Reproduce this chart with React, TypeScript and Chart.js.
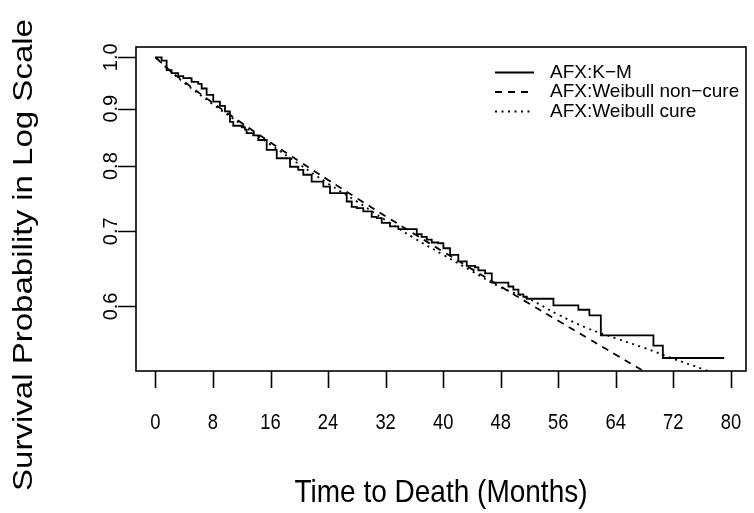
import React, { useEffect, useRef } from "react";
import { Chart, registerables } from "chart.js";

Chart.register(...registerables);

// Kaplan-Meier estimate (time in months, survival)
const kmTime = [
  0, 0.86, 1.56, 2.25, 3.17, 3.87, 5.03, 5.95, 6.43, 7.12, 8.04, 8.97, 9.67,
  10.36, 10.82, 11.99, 12.45, 12.68, 13.6, 14.3, 15.47, 16.86, 18.71, 19.86,
  20.56, 21.72, 23.34, 24.27, 26.59, 27.29, 27.98, 28.9, 30.07, 30.76, 31.46,
  32.61, 33.77, 36.33, 37.0, 37.72, 38.41, 39.33, 40.03, 40.96, 42.11, 43.28,
  44.44, 44.9, 45.83, 46.76, 49.07, 49.76, 50.46, 51.15, 51.63, 55.33, 58.8,
  60.33, 61.92, 69.23, 70.54, 79.07,
];
const kmSurv = [
  1.0, 0.993, 0.974, 0.968, 0.962, 0.958, 0.951, 0.947, 0.938, 0.926, 0.913,
  0.905, 0.895, 0.876, 0.869, 0.866, 0.862, 0.856, 0.852, 0.844, 0.827, 0.813,
  0.799, 0.794, 0.786, 0.775, 0.767, 0.757, 0.744, 0.736, 0.734, 0.729, 0.721,
  0.719, 0.712, 0.707, 0.703, 0.696, 0.692, 0.688, 0.684, 0.683, 0.676, 0.667,
  0.658, 0.652, 0.65, 0.646, 0.642, 0.63, 0.625, 0.621, 0.615, 0.612, 0.6095,
  0.6012, 0.5959, 0.589, 0.5654, 0.5536, 0.5398, 0.5398,
];

// Weibull non-cure fitted curve
const wbTime = [0, 2, 4, 8, 12, 16, 20, 24, 28, 32, 36, 40, 44, 48, 52, 56, 60, 64, 68, 72];
const wbNonCure = [
  1.0, 0.9735, 0.9511, 0.9107, 0.8738, 0.8398, 0.8078, 0.7777, 0.7492, 0.7219,
  0.696, 0.6713, 0.6477, 0.625, 0.6033, 0.5826, 0.5626, 0.5434, 0.525, 0.5074,
];

// Weibull cure fitted curve
const wbCureTime = [0, 2, 4, 8, 12, 16, 20, 24, 28, 32, 36, 40, 44, 48, 52, 56, 60, 64, 68, 72, 76, 80];
const wbCure = [
  1.0, 0.973, 0.949, 0.908, 0.871, 0.836, 0.803, 0.772, 0.744, 0.716, 0.69,
  0.667, 0.645, 0.624, 0.609, 0.59, 0.574, 0.562, 0.551, 0.539, 0.528, 0.517,
];

const xTicks = [0, 8, 16, 24, 32, 40, 48, 56, 64, 72, 80];
const yTicks = [0.6, 0.7, 0.8, 0.9, 1.0];
const yTickLabels = ["0.6", "0.7", "0.8", "0.9", "1.0"];
const legendLabels = ["AFX:K\u2212M", "AFX:Weibull non\u2212cure", "AFX:Weibull cure"];
const xTitle = "Time to Death (Months)";
const yTitle = "Survival Probability in Log Scale";

const FONT = '"Liberation Sans", Arial, Helvetica, sans-serif';
const DASHES = [[], [7, 6], [2, 4.5]];

const rAxesPlugin = {
  id: "rAxes",
  afterDraw(chart: any) {
    const ctx: CanvasRenderingContext2D = chart.ctx;
    const { left, right, top, bottom } = chart.chartArea;
    const xs = chart.scales.x;
    const ys = chart.scales.y;
    ctx.save();
    ctx.strokeStyle = "#000";
    ctx.fillStyle = "#000";
    ctx.lineWidth = 1.6;
    ctx.setLineDash([]);
    ctx.strokeRect(left, top, right - left, bottom - top);

    ctx.beginPath();
    for (const v of yTicks) {
      const p = Math.round(ys.getPixelForValue(v)) + 0.5;
      ctx.moveTo(left - 18, p);
      ctx.lineTo(left, p);
    }
    for (const v of xTicks) {
      const p = Math.round(xs.getPixelForValue(v)) + 0.5;
      ctx.moveTo(p, bottom);
      ctx.lineTo(p, bottom + 17);
    }
    ctx.stroke();

    // y tick labels (rotated, parallel to axis)
    ctx.font = `20px ${FONT}`;
    ctx.textAlign = "center";
    ctx.textBaseline = "middle";
    yTicks.forEach((v, i) => {
      const p = ys.getPixelForValue(v);
      ctx.save();
      ctx.translate(111, p);
      ctx.rotate(-Math.PI / 2);
      ctx.fillText(yTickLabels[i], 0, 0);
      ctx.restore();
    });

    // x tick labels
    ctx.font = `20px ${FONT}`;
    xTicks.forEach((v) => {
      const p = xs.getPixelForValue(v);
      ctx.save();
      ctx.translate(p, 423);
      ctx.scale(0.92, 1.12);
      ctx.fillText(String(v), 0, 0);
      ctx.restore();
    });

    // x title
    ctx.font = `28px ${FONT}`;
    ctx.save();
    ctx.translate((left + right) / 2, 493);
    ctx.scale(1, 1.15);
    ctx.fillText(xTitle, 0, 0);
    ctx.restore();

    // y title
    ctx.save();
    ctx.translate(24, 255);
    ctx.rotate(-Math.PI / 2);
    ctx.scale(1.18, 1);
    ctx.fillText(yTitle, 0, 0);
    ctx.restore();

    // legend
    const ly = [72.5, 92, 111.5];
    ctx.font = `19px ${FONT}`;
    ctx.textAlign = "left";
    legendLabels.forEach((lab, i) => {
      ctx.beginPath();
      ctx.lineWidth = 1.8;
      ctx.setLineDash(DASHES[i]);
      ctx.moveTo(495, ly[i]);
      ctx.lineTo(534, ly[i]);
      ctx.stroke();
      ctx.setLineDash([]);
      ctx.fillText(lab, 550, ly[i]);
    });
    ctx.restore();
  },
};

export default function App() {
  const ref = useRef<HTMLCanvasElement | null>(null);
  useEffect(() => {
    if (!ref.current) return;
    const km = kmTime.map((t, i) => ({ x: t, y: kmSurv[i] }));
    const nc = wbTime.map((t, i) => ({ x: t, y: wbNonCure[i] }));
    const cu = wbCureTime.map((t, i) => ({ x: t, y: wbCure[i] }));
    const chart = new Chart(ref.current, {
      type: "line",
      data: {
        datasets: [
          {
            label: legendLabels[0],
            data: km,
            stepped: true,
            borderColor: "#000",
            borderWidth: 1.8,
            pointRadius: 0,
            fill: false,
          },
          {
            label: legendLabels[1],
            data: nc,
            borderColor: "#000",
            borderWidth: 1.8,
            borderDash: DASHES[1],
            pointRadius: 0,
            tension: 0.4,
            fill: false,
          },
          {
            label: legendLabels[2],
            data: cu,
            borderColor: "#000",
            borderWidth: 1.8,
            borderDash: DASHES[2],
            pointRadius: 0,
            tension: 0.4,
            fill: false,
          },
        ],
      },
      options: {
        animation: false,
        responsive: false,
        devicePixelRatio: 1,
        layout: { padding: { left: 136, right: 8, top: 47, bottom: 142 } },
        plugins: { legend: { display: false }, tooltip: { enabled: false } },
        scales: {
          x: { type: "linear", min: -2.7, max: 82.1, display: false },
          y: { type: "logarithmic", min: 0.5256, max: 1.0213, display: false },
        },
      },
      plugins: [rAxesPlugin],
    });
    return () => chart.destroy();
  }, []);
  return (
    <div style={{ position: "fixed", left: 0, top: 0, width: 754, height: 513, background: "#fff" }}>
      <canvas ref={ref} width={754} height={513} />
    </div>
  );
}
